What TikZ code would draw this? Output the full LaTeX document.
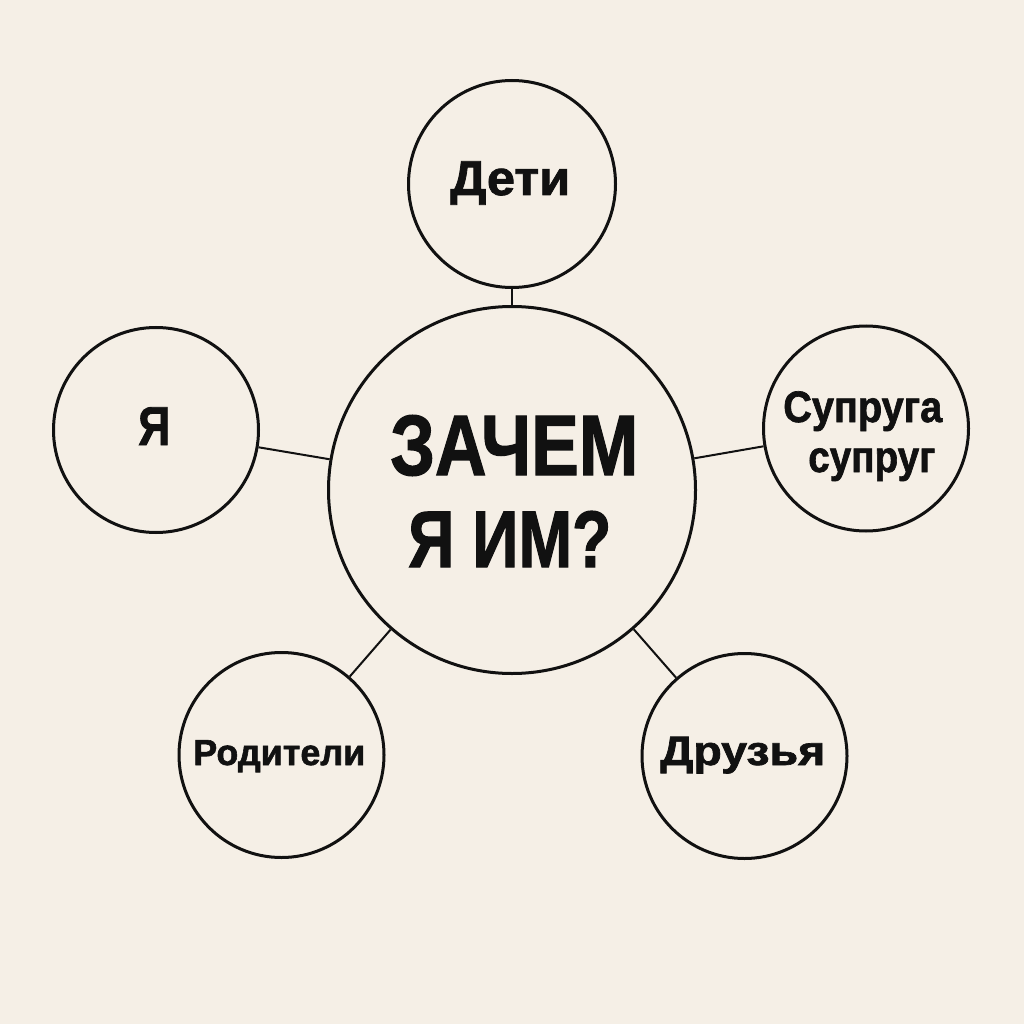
\documentclass[tikz,border=0pt]{standalone}
\usepackage{fontspec}
\setmainfont{Liberation Sans}[BoldFeatures={FakeBold=1.6}]
\usepackage{graphicx}
\definecolor{bg}{HTML}{F5EFE6}
\definecolor{ink}{HTML}{111111}
\newlength{\ux}\setlength{\ux}{0.25mm}
% #1 width in px, #2 font size in pt, #3 text
\newcommand{\fitt}[3]{{\fontsize{#2}{#2}\selectfont\bfseries\resizebox{#1\ux}{\height}{#3}}}
\begin{document}
\begin{tikzpicture}[x=0.25mm,y=-0.25mm,
  bub/.style={circle,draw=ink,line width=0.75mm,inner sep=0pt},
  conn/.style={draw=ink,line width=0.5mm},
  lbl/.style={anchor=base west,inner sep=0pt,text=ink}]
\fill[bg] (0,0) rectangle (1024,1024);
\useasboundingbox (0,0) rectangle (1024,1024);
% circles
\node[bub,minimum size=367\ux] (c) at (512,490) {};
\node[bub,minimum size=207\ux] (top) at (512,184) {};
\node[bub,minimum size=205\ux] (left) at (156,430) {};
\node[bub,minimum size=205\ux] (right) at (866,428.5) {};
\node[bub,minimum size=205\ux] (bl) at (281.5,755) {};
\node[bub,minimum size=205\ux] (br) at (744.5,756) {};
% connectors
\draw[conn] (c) -- (top);
\draw[conn] (c) -- (left);
\draw[conn] (c) -- (right);
\draw[conn] (c) -- (bl);
\draw[conn] (c) -- (br);
% texts
\node[lbl] (t1) at (390,475) {\fitt{248}{61}{ЗАЧЕМ}};
\node[lbl] (t2) at (408,567) {\fitt{203}{57}{Я ИМ?}};
\node[lbl] (t3) at (450,195) {\fitt{120}{34.8}{Дети}};
\node[lbl] (t4) at (138,445) {\fitt{32}{39}{Я}};
\node[lbl] (t5) at (783,422) {\fitt{159}{31.3}{Супруга}};
\node[lbl] (t6) at (808,472) {\fitt{127}{31.3}{супруг}};
\node[lbl] (t7) at (193,765) {\fitt{172}{25.8}{Родители}};
\node[lbl] (t8) at (660,765) {\fitt{165}{29.2}{Друзья}};
\end{tikzpicture}
\end{document}
